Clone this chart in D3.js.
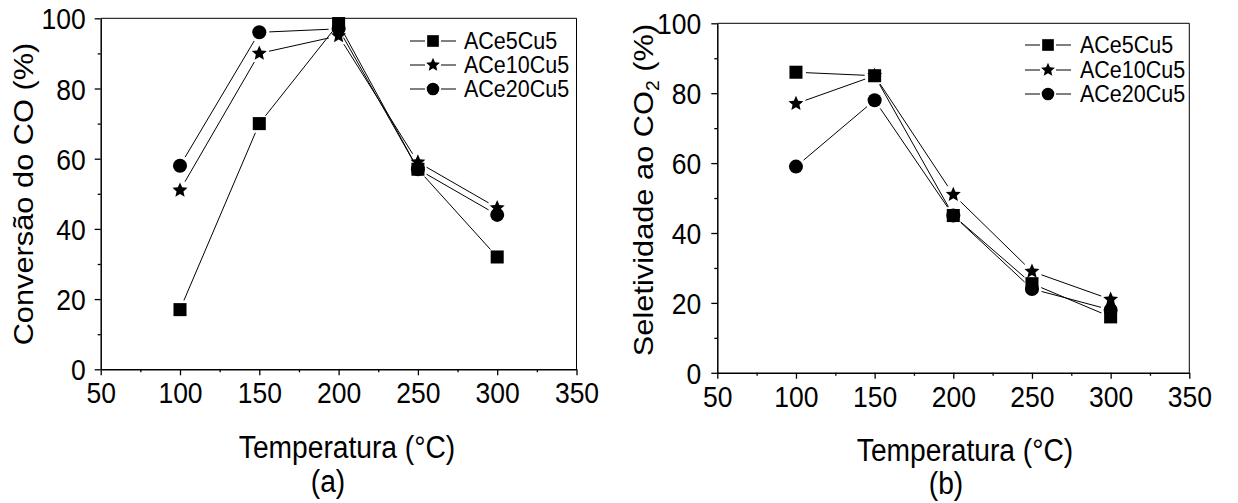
<!DOCTYPE html>
<html>
<head>
<meta charset="utf-8">
<script src="https://cdn.jsdelivr.net/npm/d3@7"></script>
<style>
  html, body { margin: 0; padding: 0; background: #fff; }
  svg { display: block; }
  text { font-family: "Liberation Sans", Arial, sans-serif; fill: #000; }
</style>
</head>
<body>
<svg id="chart" width="1238" height="503"></svg>
<script>
// Temperatures (°C) and series values (%)
const temps = [100, 150, 200, 250, 300];
const seriesNames = ["ACe5Cu5", "ACe10Cu5", "ACe20Cu5"];

// (a) CO conversion
const convACe5Cu5  = [17, 70, 98.5, 57, 32];
const convACe10Cu5 = [51, 90, 95, 59, 46];
const convACe20Cu5 = [58, 96, 97, 57, 44];

// (b) CO2 selectivity
const selACe5Cu5  = [86, 85, 45, 25.5, 16];
const selACe10Cu5 = [77, 85, 51, 29, 21];
const selACe20Cu5 = [59, 78, 45, 24, 18];

const xTicks = [50, 100, 150, 200, 250, 300, 350];
const xMinor = [75, 125, 175, 225, 275, 325];
const yTicks = [0, 20, 40, 60, 80, 100];
const yMinor = [10, 30, 50, 70, 90];

const STRETCH = 1.08;   // text is drawn slightly tall
const svg = d3.select("#chart");

// a plump five-pointed star; size is the squared outer radius
const fatStar = {
  draw(context, size) {
    const R = Math.sqrt(size), r = R * 0.46;
    for (let i = 0; i < 10; i++) {
      const a = -Math.PI / 2 + i * Math.PI / 5;
      const rad = i % 2 === 0 ? R : r;
      const px = Math.cos(a) * rad, py = Math.sin(a) * rad;
      if (i === 0) context.moveTo(px, py); else context.lineTo(px, py);
    }
    context.closePath();
  }
};

const markerTypes = [d3.symbolSquare, fatStar, d3.symbolCircle];
const markerSizes = [170, 62, 155];
const legendScale = [0.8, 0.85, 0.8];

function drawPanel(cfg) {
  const x = d3.scaleLinear().domain([50, 350]).range([cfg.x0, cfg.x1]);
  const y = d3.scaleLinear().domain([0, 100]).range([cfg.y0, cfg.y1]);
  const g = svg.append("g");

  // frame (top and right edges)
  g.append("path")
    .attr("d", `M${cfg.x0},${cfg.y1}H${cfg.x1}V${cfg.y0}`)
    .attr("fill", "none").attr("stroke", "#000").attr("stroke-width", 1);

  // minor ticks
  const xMinorAxis = d3.axisBottom(x).tickValues(xMinor).tickSize(3).tickFormat("");
  const yMinorAxis = d3.axisLeft(y).tickValues(yMinor).tickSize(3).tickFormat("");
  g.append("g").attr("transform", `translate(0,${cfg.y0})`).call(xMinorAxis)
    .call(a => a.select(".domain").remove());
  g.append("g").attr("transform", `translate(${cfg.x0},0)`).call(yMinorAxis)
    .call(a => a.select(".domain").remove());

  // major axes
  const xAxis = d3.axisBottom(x).tickValues(xTicks).tickSize(6).tickSizeOuter(0).tickFormat(d3.format("d"));
  const yAxis = d3.axisLeft(y).tickValues(yTicks).tickSize(6).tickSizeOuter(0).tickFormat(d3.format("d"));
  const gx = g.append("g").attr("transform", `translate(0,${cfg.y0})`).call(xAxis);
  const gy = g.append("g").attr("transform", `translate(${cfg.x0},0)`).call(yAxis);

  g.selectAll(".tick line").attr("stroke", "#000").attr("stroke-width", 1.3);
  g.selectAll(".domain").attr("stroke", "#000").attr("stroke-width", 1.5);

  gx.selectAll(".tick text")
    .attr("y", null).attr("dy", null)
    .attr("font-size", 26.5)
    .attr("transform", `translate(0,34) scale(1,${STRETCH})`);
  gy.selectAll(".tick text")
    .attr("x", null).attr("dy", null)
    .attr("font-size", 26.5)
    .attr("text-anchor", "end")
    .attr("transform", `translate(${-cfg.yLabelGap},10.5) scale(1,${STRETCH})`);

  // connecting lines, stopped short of each marker
  const gap = 10;
  cfg.series.forEach(vals => {
    const pts = temps.map((t, i) => [x(t), y(vals[i])]);
    for (let i = 0; i < pts.length - 1; i++) {
      const [ax, ay] = pts[i], [bx, by] = pts[i + 1];
      const len = Math.hypot(bx - ax, by - ay);
      const ux = (bx - ax) / len, uy = (by - ay) / len;
      g.append("line")
        .attr("x1", ax + ux * gap).attr("y1", ay + uy * gap)
        .attr("x2", bx - ux * gap).attr("y2", by - uy * gap)
        .attr("stroke", "#000").attr("stroke-width", 1);
    }
  });

  // markers
  cfg.series.forEach((vals, si) => {
    const sym = d3.symbol().type(markerTypes[si]).size(markerSizes[si]);
    g.selectAll(null).data(temps.map((t, i) => [t, vals[i]])).join("path")
      .attr("d", sym)
      .attr("transform", d => `translate(${x(d[0])},${y(d[1])})`)
      .attr("fill", "#000");
  });

  // legend
  const lg = g.append("g");
  seriesNames.forEach((name, si) => {
    const ly = cfg.y1 + cfg.legendRows[si];
    lg.append("line")
      .attr("x1", cfg.legendX).attr("x2", cfg.legendMid - 8)
      .attr("y1", ly).attr("y2", ly).attr("stroke", "#000").attr("stroke-width", 1);
    lg.append("line")
      .attr("x1", cfg.legendMid + 8).attr("x2", cfg.legendMid * 2 - cfg.legendX)
      .attr("y1", ly).attr("y2", ly).attr("stroke", "#000").attr("stroke-width", 1);
    lg.append("path")
      .attr("d", d3.symbol().type(markerTypes[si]).size(markerSizes[si] * legendScale[si])())
      .attr("transform", `translate(${cfg.legendMid},${ly})`)
      .attr("fill", "#000");
    lg.append("text")
      .attr("font-size", 21.5)
      .attr("transform", `translate(${cfg.legendText},${ly + 8}) scale(1,${STRETCH})`)
      .text(name);
  });

  // axis titles
  g.append("text")
    .attr("font-size", 28.2)
    .attr("text-anchor", "middle")
    .attr("transform", `translate(${cfg.xTitleX},${cfg.xTitleY}) scale(1,${STRETCH})`)
    .text("Temperatura (°C)");
  g.append("text")
    .attr("font-size", 28.2)
    .attr("text-anchor", "middle")
    .attr("transform", `translate(${cfg.tagX},${cfg.tagY}) scale(1,${STRETCH})`)
    .text(cfg.tag);

  const yt = g.append("text")
    .attr("font-size", 28.5)
    .attr("text-anchor", "middle")
    .attr("transform", `translate(${cfg.yTitleX},${cfg.yTitleY}) rotate(-90) scale(${STRETCH},1)`);
  cfg.yTitle(yt);
}

drawPanel({
  x0: 100.7, x1: 576.5, y0: 369.3, y1: 18.3,
  yLabelGap: 15,
  series: [convACe5Cu5, convACe10Cu5, convACe20Cu5],
  legendX: 410, legendMid: 433, legendText: 464,
  legendRows: [22.7, 46.7, 70.7],
  xTitleX: 347, xTitleY: 458,
  tag: "(a)", tagX: 328, tagY: 492,
  yTitleX: 33, yTitleY: 194,
  yTitle: t => t.text("Conversão do CO (%)")
});

drawPanel({
  x0: 717.3, x1: 1189.3, y0: 372.8, y1: 23.3,
  yLabelGap: 16,
  series: [selACe5Cu5, selACe10Cu5, selACe20Cu5],
  legendX: 1025, legendMid: 1048, legendText: 1080,
  legendRows: [21.7, 46.7, 70.7],
  xTitleX: 965, xTitleY: 461,
  tag: "(b)", tagX: 946, tagY: 494,
  yTitleX: 653, yTitleY: 190,
  yTitle: t => {
    t.append("tspan").text("Seletividade ao CO");
    t.append("tspan").attr("font-size", 18).attr("dy", 6).text("2");
    t.append("tspan").attr("dy", -6).text(" (%)");
  }
});
</script>
</body>
</html>
